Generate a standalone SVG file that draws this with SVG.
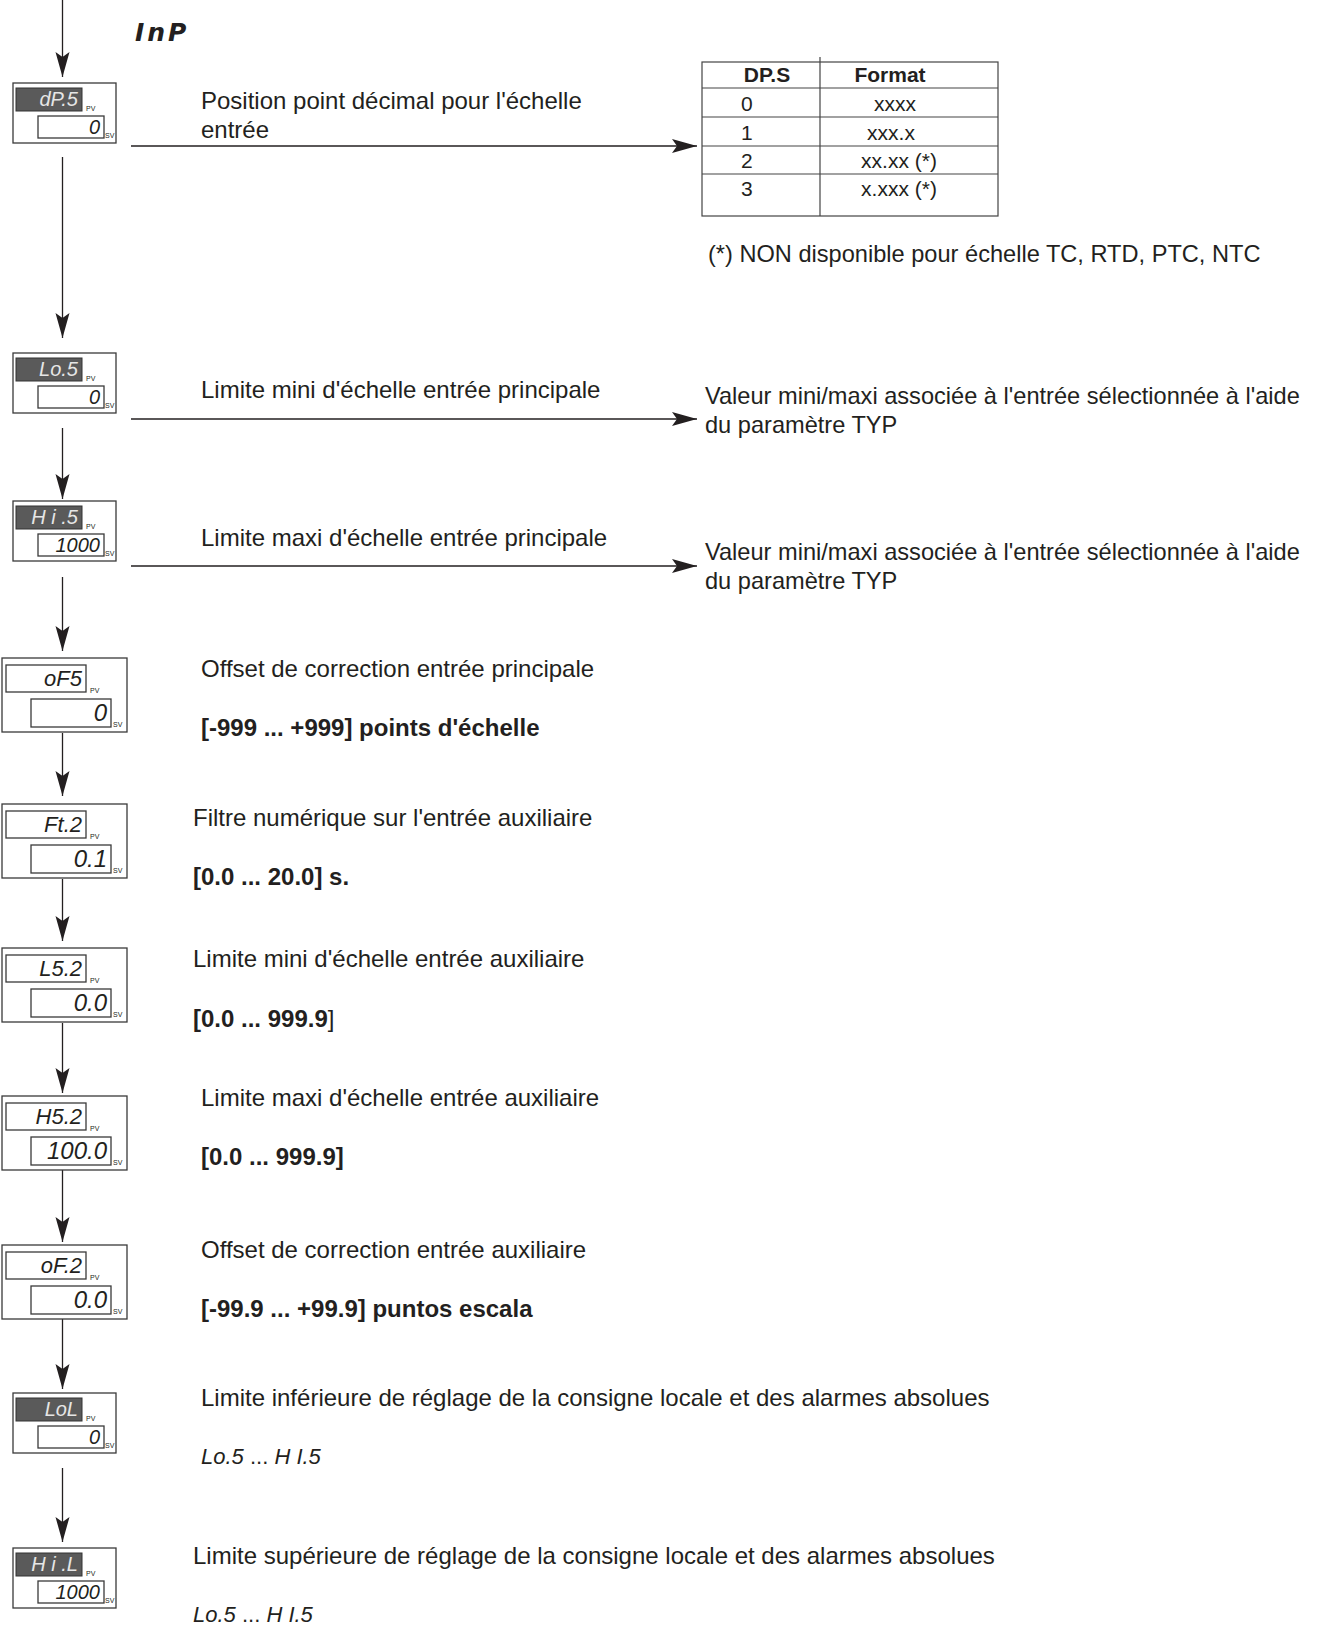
<svg xmlns="http://www.w3.org/2000/svg" width="1318" height="1626" viewBox="0 0 1318 1626">
<style>
.t{font-family:"Liberation Sans",Arial,Helvetica,sans-serif;font-size:24px;fill:#231f20}
.r{font-size:23.6px}
.b{font-weight:bold}
.seg{font-family:"Liberation Sans",Arial,sans-serif;font-style:italic;fill:#231f20}
.pvd{font-size:20px;fill:#e6e6e6}
.svd{font-size:20px}
.pvl{font-size:22px}
.svl{font-size:24px}
.box{fill:#fff;stroke:#3a3a3a;stroke-width:1.3}
.dk{fill:#5a5a5a;stroke:#333;stroke-width:1}
.lbl{font-family:"Liberation Sans",Arial,sans-serif;font-size:7px;fill:#231f20}
.tb{fill:none;stroke:#444;stroke-width:1.2}
.cn line{stroke:#231f20;stroke-width:1.3;fill:none}
.title{font-family:"DejaVu Sans",sans-serif;font-weight:bold;font-style:oblique;font-size:25px;letter-spacing:3px;fill:#231f20}
.rng{font-family:"Liberation Sans",Arial,sans-serif;font-size:22px;fill:#231f20}
</style>
<defs>
<marker id="ah" markerUnits="userSpaceOnUse" markerWidth="28" markerHeight="16" refX="25" refY="7" orient="auto">
<path d="M0,0 L25,7 L0,14 L5,7 Z" fill="#231f20"/>
</marker>
</defs>

<text class="title" x="135" y="41">InP</text>

<g id="connectors" class="cn">
<line x1="62.5" y1="0" x2="62.5" y2="77" marker-end="url(#ah)"/>
<line x1="62.5" y1="157" x2="62.5" y2="338" marker-end="url(#ah)"/>
<line x1="62.5" y1="428" x2="62.5" y2="499" marker-end="url(#ah)"/>
<line x1="62.5" y1="577" x2="62.5" y2="651" marker-end="url(#ah)"/>
<line x1="62.5" y1="733" x2="62.5" y2="796" marker-end="url(#ah)"/>
<line x1="62.5" y1="879" x2="62.5" y2="941" marker-end="url(#ah)"/>
<line x1="62.5" y1="1023" x2="62.5" y2="1093" marker-end="url(#ah)"/>
<line x1="62.5" y1="1170" x2="62.5" y2="1242" marker-end="url(#ah)"/>
<line x1="62.5" y1="1319" x2="62.5" y2="1389" marker-end="url(#ah)"/>
<line x1="62.5" y1="1468" x2="62.5" y2="1542" marker-end="url(#ah)"/>
<line x1="131" y1="146" x2="697" y2="146" marker-end="url(#ah)"/>
<line x1="131" y1="419" x2="697" y2="419" marker-end="url(#ah)"/>
<line x1="131" y1="566" x2="697" y2="566" marker-end="url(#ah)"/>
</g>

<g id="node-dPS" transform="translate(0,83)">
<rect class="box" x="13" y="0" width="103" height="60"/>
<rect class="dk" x="16" y="5" width="66" height="23"/>
<text class="seg pvd" x="78" y="23" text-anchor="end">dP.5</text>
<text class="lbl" x="86" y="28">PV</text>
<rect class="box" x="38" y="33" width="66" height="22"/>
<text class="seg svd" x="100" y="51" text-anchor="end">0</text>
<text class="lbl" x="105" y="55">SV</text>
</g>

<g id="node-LoS" transform="translate(0,353)">
<rect class="box" x="13" y="0" width="103" height="60"/>
<rect class="dk" x="16" y="5" width="66" height="23"/>
<text class="seg pvd" x="78" y="23" text-anchor="end">Lo.5</text>
<text class="lbl" x="86" y="28">PV</text>
<rect class="box" x="38" y="33" width="66" height="22"/>
<text class="seg svd" x="100" y="51" text-anchor="end">0</text>
<text class="lbl" x="105" y="55">SV</text>
</g>

<g id="node-HiS" transform="translate(0,501)">
<rect class="box" x="13" y="0" width="103" height="60"/>
<rect class="dk" x="16" y="5" width="66" height="23"/>
<text class="seg pvd" x="78" y="23" text-anchor="end">H i .5</text>
<text class="lbl" x="86" y="28">PV</text>
<rect class="box" x="38" y="33" width="66" height="22"/>
<text class="seg svd" x="100" y="51" text-anchor="end">1000</text>
<text class="lbl" x="105" y="55">SV</text>
</g>

<g id="node-oFS" transform="translate(0,658)">
<rect class="box" x="2" y="0" width="125" height="74"/>
<rect class="box" x="6" y="7" width="80" height="27"/>
<text class="seg pvl" x="82" y="28" text-anchor="end">oF5</text>
<text class="lbl" x="90" y="35">PV</text>
<rect class="box" x="31" y="41" width="80" height="28"/>
<text class="seg svl" x="107" y="63" text-anchor="end">0</text>
<text class="lbl" x="113" y="69">SV</text>
</g>

<g id="node-Ft2" transform="translate(0,804)">
<rect class="box" x="2" y="0" width="125" height="74"/>
<rect class="box" x="6" y="7" width="80" height="27"/>
<text class="seg pvl" x="82" y="28" text-anchor="end">Ft.2</text>
<text class="lbl" x="90" y="35">PV</text>
<rect class="box" x="31" y="41" width="80" height="28"/>
<text class="seg svl" x="107" y="63" text-anchor="end">0.1</text>
<text class="lbl" x="113" y="69">SV</text>
</g>

<g id="node-LS2" transform="translate(0,948)">
<rect class="box" x="2" y="0" width="125" height="74"/>
<rect class="box" x="6" y="7" width="80" height="27"/>
<text class="seg pvl" x="82" y="28" text-anchor="end">L5.2</text>
<text class="lbl" x="90" y="35">PV</text>
<rect class="box" x="31" y="41" width="80" height="28"/>
<text class="seg svl" x="107" y="63" text-anchor="end">0.0</text>
<text class="lbl" x="113" y="69">SV</text>
</g>

<g id="node-HS2" transform="translate(0,1096)">
<rect class="box" x="2" y="0" width="125" height="74"/>
<rect class="box" x="6" y="7" width="80" height="27"/>
<text class="seg pvl" x="82" y="28" text-anchor="end">H5.2</text>
<text class="lbl" x="90" y="35">PV</text>
<rect class="box" x="31" y="41" width="80" height="28"/>
<text class="seg svl" x="107" y="63" text-anchor="end">100.0</text>
<text class="lbl" x="113" y="69">SV</text>
</g>

<g id="node-oF2" transform="translate(0,1245)">
<rect class="box" x="2" y="0" width="125" height="74"/>
<rect class="box" x="6" y="7" width="80" height="27"/>
<text class="seg pvl" x="82" y="28" text-anchor="end">oF.2</text>
<text class="lbl" x="90" y="35">PV</text>
<rect class="box" x="31" y="41" width="80" height="28"/>
<text class="seg svl" x="107" y="63" text-anchor="end">0.0</text>
<text class="lbl" x="113" y="69">SV</text>
</g>

<g id="node-LoL" transform="translate(0,1393)">
<rect class="box" x="13" y="0" width="103" height="60"/>
<rect class="dk" x="16" y="5" width="66" height="23"/>
<text class="seg pvd" x="78" y="23" text-anchor="end">LoL</text>
<text class="lbl" x="86" y="28">PV</text>
<rect class="box" x="38" y="33" width="66" height="22"/>
<text class="seg svd" x="100" y="51" text-anchor="end">0</text>
<text class="lbl" x="105" y="55">SV</text>
</g>

<g id="node-HiL" transform="translate(0,1548)">
<rect class="box" x="13" y="0" width="103" height="60"/>
<rect class="dk" x="16" y="5" width="66" height="23"/>
<text class="seg pvd" x="78" y="23" text-anchor="end">H i .L</text>
<text class="lbl" x="86" y="28">PV</text>
<rect class="box" x="38" y="33" width="66" height="22"/>
<text class="seg svd" x="100" y="51" text-anchor="end">1000</text>
<text class="lbl" x="105" y="55">SV</text>
</g>

<g id="table-dps">
<rect class="tb" x="702" y="62" width="296" height="154"/>
<line class="tb" x1="820" y1="57" x2="820" y2="216"/>
<line class="tb" x1="702" y1="88" x2="998" y2="88"/>
<line class="tb" x1="702" y1="117" x2="998" y2="117"/>
<line class="tb" x1="702" y1="146" x2="998" y2="146"/>
<line class="tb" x1="702" y1="174" x2="998" y2="174"/>
<text class="t b" x="767" y="82" text-anchor="middle" style="font-size:21px">DP.S</text>
<text class="t b" x="890" y="82" text-anchor="middle" style="font-size:21px">Format</text>
<text class="t" x="741" y="111" style="font-size:21px">0</text>
<text class="t" x="741" y="140" style="font-size:21px">1</text>
<text class="t" x="741" y="168" style="font-size:21px">2</text>
<text class="t" x="741" y="196" style="font-size:21px">3</text>
<text class="t" x="895" y="111" text-anchor="middle" style="font-size:21px">xxxx</text>
<text class="t" x="891" y="140" text-anchor="middle" style="font-size:21px">xxx.x</text>
<text class="t" x="899" y="168" text-anchor="middle" style="font-size:21px">xx.xx (*)</text>
<text class="t" x="899" y="196" text-anchor="middle" style="font-size:21px">x.xxx (*)</text>
</g>

<g id="labels">
<text class="t" x="201" y="109">Position point décimal pour l'échelle</text>
<text class="t" x="201" y="138">entrée</text>
<text class="t r" x="708" y="262">(*) NON disponible pour échelle TC, RTD, PTC, NTC</text>
<text class="t" x="201" y="398">Limite mini d'échelle entrée principale</text>
<text class="t r" x="705" y="404">Valeur mini/maxi associée à l'entrée sélectionnée à l'aide</text>
<text class="t r" x="705" y="433">du paramètre TYP</text>
<text class="t" x="201" y="546">Limite maxi d'échelle entrée principale</text>
<text class="t r" x="705" y="560">Valeur mini/maxi associée à l'entrée sélectionnée à l'aide</text>
<text class="t r" x="705" y="589">du paramètre TYP</text>
<text class="t" x="201" y="677">Offset de correction entrée principale</text>
<text class="t b" x="201" y="736">[-999 ... +999] points d'échelle</text>
<text class="t" x="193" y="826">Filtre numérique sur l'entrée auxiliaire</text>
<text class="t b" x="193" y="885">[0.0 ... 20.0] s.</text>
<text class="t" x="193" y="967">Limite mini d'échelle entrée auxiliaire</text>
<text class="t" x="193" y="1027"><tspan class="b">[0.0 ... 999.9</tspan>]</text>
<text class="t" x="201" y="1106">Limite maxi d'échelle entrée auxiliaire</text>
<text class="t b" x="201" y="1165">[0.0 ... 999.9]</text>
<text class="t" x="201" y="1258">Offset de correction entrée auxiliaire</text>
<text class="t b" x="201" y="1317">[-99.9 ... +99.9] puntos escala</text>
<text class="t" x="201" y="1406">Limite inférieure de réglage de la consigne locale et des alarmes absolues</text>
<text class="rng" x="201" y="1464"><tspan font-style="italic">Lo.5</tspan> ... <tspan font-style="italic">H I.5</tspan></text>
<text class="t" x="193" y="1564">Limite supérieure de réglage de la consigne locale et des alarmes absolues</text>
<text class="rng" x="193" y="1622"><tspan font-style="italic">Lo.5</tspan> ... <tspan font-style="italic">H I.5</tspan></text>
</g>
</svg>
